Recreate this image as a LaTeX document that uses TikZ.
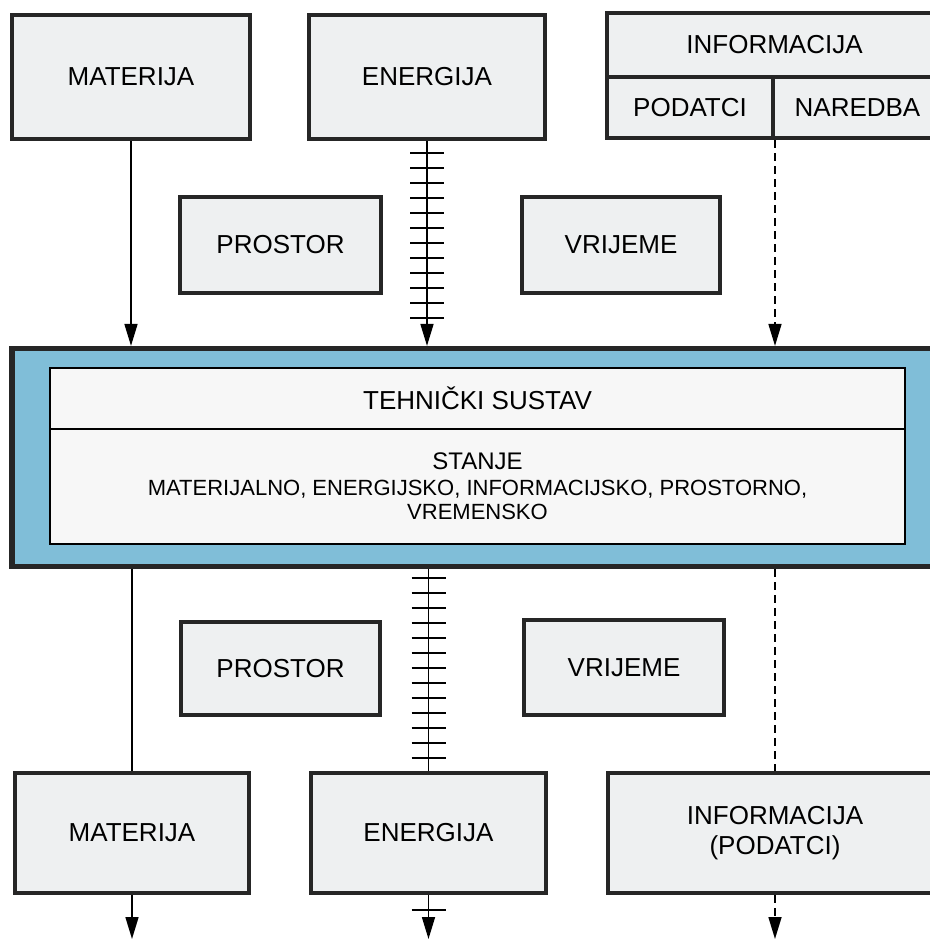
\documentclass[tikz,border=0pt]{standalone}
\usepackage{fontspec}
\setmainfont{Liberation Sans}
\usetikzlibrary{arrows.meta}

\definecolor{okvirplava}{RGB}{128,190,216}
\definecolor{blokpozadina}{RGB}{238,240,241}

\tikzset{
  blok/.style={draw=black!85, line width=2pt, fill=blokpozadina, inner sep=0pt,
    font=\fontsize{13}{15}\selectfont, align=center},
  okvir/.style={draw=black!85, line width=2.6pt, fill=okvirplava, inner sep=0pt},
  unutra/.style={draw=black, line width=1pt, fill=black!3, inner sep=0pt, align=center},
  tok/.style={line width=0.8pt, -{Triangle[length=11pt,width=6.5pt]}},
  crtkano/.style={tok, dash pattern=on 4pt off 2.5pt},
  crtica/.style={line width=0.9pt}
}

\begin{document}
\begin{tikzpicture}[x=0.5pt,y=-0.5pt]
\useasboundingbox (0,0) rectangle (930,939);
\fill[white] (0,0) rectangle (930,939);

\node[blok, minimum width=119pt, minimum height=62pt] (mat1) at (131,77) {MATERIJA};
\node[blok, minimum width=118pt, minimum height=62pt] (ene1) at (427,77) {ENERGIJA};
\node[blok, minimum width=167.5pt, minimum height=32pt] (inf1) at (774.5,45) {INFORMACIJA};
\node[blok, minimum width=83pt, minimum height=30.5pt] (pod) at (690,107.5) {PODATCI};
\node[blok, minimum width=84.5pt, minimum height=30.5pt] (nar) at (857.5,107.5) {NAREDBA};
\node[blok, minimum width=100.5pt, minimum height=48pt] (pro1) at (280.5,245) {PROSTOR};
\node[blok, minimum width=99pt, minimum height=48pt] (vri1) at (621,245) {VRIJEME};

\node[okvir, minimum width=465.5pt, minimum height=109pt] (sys) at (477.5,457.5) {};
\node[unutra, minimum width=427.5pt, minimum height=30.5pt,
  font=\fontsize{13}{15}\selectfont] (naziv) at (477.5,398.5) {TEHNIČKI SUSTAV};
\node[unutra, minimum width=427.5pt, minimum height=57.5pt] (stanje) at (477.5,486.5)
  {\fontsize{12}{13}\selectfont STANJE\\[1pt]
   \fontsize{11}{12.5}\selectfont MATERIJALNO, ENERGIJSKO, INFORMACIJSKO, PROSTORNO,\\
   \fontsize{11}{12.5}\selectfont VREMENSKO};

\node[blok, minimum width=99.5pt, minimum height=46.5pt] (pro2) at (280.5,668.5) {PROSTOR};
\node[blok, minimum width=100pt, minimum height=47.5pt] (vri2) at (624,667.5) {VRIJEME};
\node[blok, minimum width=117pt, minimum height=60pt] (mat2) at (132,833) {MATERIJA};
\node[blok, minimum width=117.5pt, minimum height=60pt] (ene2) at (428.5,833) {ENERGIJA};
\node[blok, minimum width=167pt, minimum height=60pt] (inf2) at (775,833) {INFORMACIJA\\(PODATCI)};

\coordinate (izlaz1) at (mat2.south |- 0,939);
\coordinate (izlaz2) at (ene2.south |- 0,939);
\coordinate (izlaz3) at (inf2.south |- 0,939);

% ulazi
\draw[tok] (mat1.south) -- (mat1.south |- sys.north);
\draw[tok] (ene1.south) -- (ene1.south |- sys.north);
\foreach \y in {153,168,...,318}
  \draw[crtica] (ene1.south |- 0,\y) ++(-17,0) -- ++(34,0);
\draw[crtkano] (pod.south east) -- (pod.south east |- sys.north);

% izlazi
\draw[tok, -] (sys.south -| mat2.north) -- (mat2.north);
\draw[tok, -] (sys.south -| ene2.north) -- (ene2.north);
\foreach \y in {578,593,...,758}
  \draw[crtica] (ene2.north |- 0,\y) ++(-17,0) -- ++(34,0);
\draw[crtkano, -] (sys.south -| inf2.north) -- (inf2.north);

\draw[tok] (mat2.south) -- (izlaz1);
\draw[tok] (ene2.south) -- (izlaz2);
\draw[crtica] (ene2.south |- 0,910) ++(-17,0) -- ++(34,0);
\draw[crtkano] (inf2.south) -- (izlaz3);
\end{tikzpicture}
\end{document}
